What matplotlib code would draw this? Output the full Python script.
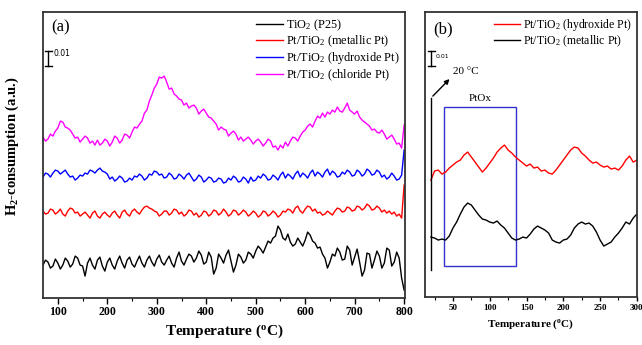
import numpy as np
import matplotlib
matplotlib.use('Agg')
import matplotlib.pyplot as plt
from matplotlib.ticker import MultipleLocator

#
# データ (縦軸は任意単位, 16 = 0.01)
#
temp_a = list(range(70, 801, 5))

tio2_p25 = [33, 38, 36, 30, 32, 39, 35, 29, 33, 40, 37, 31, 34, 42, 40, 33, 32, 22, 35, 40,
            33, 29, 38, 41, 32, 27, 36, 40, 33, 29, 37, 42, 35, 30, 38, 41, 34, 31, 37, 42,
            35, 31, 38, 42, 36, 32, 39, 43, 36, 33, 38, 42, 35, 31, 40, 46, 37, 33, 39, 44,
            42, 36, 40, 47, 43, 34, 36, 46, 41, 24, 30, 44, 40, 35, 43, 48, 37, 26, 33, 44,
            41, 35, 38, 46, 44, 40, 47, 52, 49, 45, 51, 57, 55, 60, 62, 72, 68, 60, 58, 64,
            56, 52, 54, 60, 56, 52, 58, 66, 63, 57, 55, 50, 51, 44, 40, 30, 36, 44, 42, 50,
            46, 38, 39, 52, 48, 33, 41, 49, 36, 22, 28, 45, 44, 30, 38, 47, 42, 30, 35, 50,
            48, 32, 36, 46, 40, 20, 8]
metallic_pt = [87, 84, 85, 89, 88, 84, 86, 89, 84, 82, 87, 90, 89, 85, 86, 82, 84, 86, 83, 80,
               85, 87, 82, 80, 84, 86, 83, 81, 85, 87, 83, 80, 86, 88, 84, 82, 87, 89, 86, 84,
               88, 91, 92, 90, 89, 87, 86, 82, 84, 87, 87, 83, 85, 89, 88, 84, 86, 82, 84, 88,
               87, 83, 85, 81, 83, 87, 86, 82, 84, 88, 87, 83, 85, 89, 86, 82, 84, 88, 87, 83,
               85, 88, 86, 82, 84, 87, 85, 81, 83, 87, 86, 82, 84, 87, 85, 81, 83, 87, 86, 89,
               88, 85, 90, 92, 87, 85, 89, 92, 91, 87, 89, 85, 86, 83, 84, 87, 85, 83, 87, 90,
               89, 86, 87, 91, 90, 87, 88, 92, 91, 88, 90, 94, 92, 88, 89, 92, 90, 86, 88, 85,
               87, 84, 86, 82, 84, 80, 113]
hydroxide_pt = [121, 125, 124, 121, 125, 128, 127, 124, 126, 128, 124, 121, 122, 118, 120, 123,
                122, 125, 124, 128, 127, 125, 128, 130, 127, 126, 124, 119, 121, 117, 119, 122,
                120, 116, 117, 120, 118, 122, 121, 124, 122, 118, 120, 124, 123, 127, 126, 123,
                124, 120, 121, 125, 123, 119, 120, 124, 122, 119, 123, 125, 121, 117, 119, 123,
                121, 116, 118, 121, 120, 116, 117, 120, 119, 115, 116, 120, 118, 122, 120, 116,
                117, 121, 119, 115, 121, 117, 118, 122, 120, 124, 122, 118, 119, 123, 121, 118,
                123, 126, 120, 124, 122, 119, 124, 127, 121, 125, 123, 120, 125, 128, 122, 126,
                124, 121, 126, 129, 123, 127, 125, 121, 122, 126, 124, 128, 126, 122, 123, 128,
                126, 122, 124, 129, 127, 123, 124, 128, 126, 121, 123, 119, 121, 125, 122, 118,
                119, 123, 148]
chloride_pt = [161, 157, 159, 164, 162, 167, 170, 177, 176, 171, 170, 168, 164, 160, 161, 156,
               159, 162, 160, 155, 157, 153, 158, 153, 155, 159, 157, 152, 156, 162, 160, 155,
               158, 164, 163, 160, 166, 171, 170, 174, 177, 185, 188, 197, 203, 210, 214, 221,
               220, 222, 216, 209, 210, 204, 202, 199, 198, 193, 195, 190, 192, 193, 190, 184,
               187, 189, 185, 181, 180, 177, 174, 168, 171, 169, 168, 162, 165, 167, 164, 158,
               161, 157, 159, 161, 158, 154, 157, 159, 156, 152, 155, 159, 157, 151, 152, 148,
               153, 150, 156, 152, 157, 161, 160, 157, 162, 166, 168, 172, 174, 171, 177, 182,
               180, 185, 181, 186, 184, 188, 186, 191, 187, 186, 190, 195, 188, 186, 184, 187,
               181, 178, 176, 174, 172, 168, 169, 166, 165, 168, 164, 159, 161, 163, 159, 154,
               155, 150, 173]

temp_b = list(range(20, 301, 5))
hydroxide_pt_b = [117, 126, 127, 123, 125, 129, 132, 135, 137, 142, 145, 140, 135, 130, 125, 129,
                  134, 139, 145, 149, 152, 147, 144, 140, 137, 134, 131, 133, 129, 130, 126, 127,
                  124, 123, 127, 132, 137, 142, 147, 150, 149, 144, 141, 137, 134, 135, 132, 130,
                  131, 128, 129, 127, 131, 137, 141, 135, 137]
metallic_pt_b = [60, 59, 57, 58, 57, 61, 69, 75, 83, 90, 94, 92, 87, 82, 78, 77,
                 75, 74, 76, 72, 69, 64, 59, 57, 58, 60, 59, 63, 68, 71, 69, 67,
                 64, 57, 55, 54, 57, 58, 62, 69, 73, 75, 73, 74, 71, 65, 57, 51,
                 53, 55, 60, 64, 69, 75, 73, 79, 83]
# 20 ℃ での立ち上がり
jump_t = [20, 20]
jump_h = [199, 27]

#
# 描画設定
#
plt.rcParams['font.family'] = ['Liberation Serif', 'DejaVu Serif']
plt.rcParams['mathtext.fontset'] = 'custom'
plt.rcParams['mathtext.rm'] = 'Liberation Serif'
plt.rcParams['mathtext.default'] = 'regular'
plt.rcParams['axes.linewidth'] = 1.3
plt.rcParams['axes.edgecolor'] = '#333333'

fig = plt.figure(figsize=(6.42, 3.45), dpi=100)
ax1 = fig.add_axes([0.067, 0.136, 0.564, 0.829])
ax2 = fig.add_axes([0.662, 0.139, 0.330, 0.826])

# (a)
ax1.plot(temp_a, tio2_p25, color='black', lw=1.0, label='TiO$_2$ (P25)')
ax1.plot(temp_a, metallic_pt, color='red', lw=1.0, label='Pt/TiO$_2$ (metallic Pt)')
ax1.plot(temp_a, hydroxide_pt, color='blue', lw=1.0, label='Pt/TiO$_2$ (hydroxide Pt)')
ax1.plot(temp_a, chloride_pt, color='magenta', lw=1.0, label='Pt/TiO$_2$ (chloride Pt)')
ax1.set_xlim(70, 802)
ax1.set_ylim(0, 286)
ax1.set_yticks([])
ax1.xaxis.set_major_locator(MultipleLocator(100))
ax1.xaxis.set_minor_locator(MultipleLocator(50))
ax1.tick_params(axis='x', which='major', direction='out', length=4, width=1, labelsize=8.5, pad=2)
ax1.tick_params(axis='x', which='minor', direction='out', length=2, width=0.8)
for t in ax1.get_xticklabels():
    t.set_fontweight('bold')
ax1.set_xlabel('Temperature ($^o$C)', fontsize=11, fontweight='bold', labelpad=3)
ax1.set_ylabel('H$_2$-consumption (a.u.)', fontsize=10.5, fontweight='bold')
ax1.yaxis.set_label_coords(-0.06, 0.53)
ax1.legend(loc='upper right', frameon=False, fontsize=8.8, handlelength=2.2,
           labelspacing=0.08, borderaxespad=0.05, handletextpad=0.25)
ax1.text(0.022, 0.945, '(a)', transform=ax1.transAxes, fontsize=12, va='center')
# スケールバー
ax1.plot([0.015, 0.015], [0.81, 0.865], transform=ax1.transAxes, color='black', lw=1)
ax1.plot([0.006, 0.024], [0.81, 0.81], transform=ax1.transAxes, color='black', lw=1)
ax1.plot([0.006, 0.024], [0.865, 0.865], transform=ax1.transAxes, color='black', lw=1)
ax1.text(0.028, 0.855, '0.01', transform=ax1.transAxes, fontsize=5.5, family='DejaVu Sans', va='center')

# (b)
ax2.plot(temp_b, hydroxide_pt_b, color='red', lw=1.0, label='Pt/TiO$_2$ (hydroxide Pt)')
ax2.plot(temp_b, metallic_pt_b, color='black', lw=1.0, label='Pt/TiO$_2$ (metallic Pt)')
ax2.plot(jump_t, jump_h, color='black', lw=1.0)
ax2.set_xlim(12, 300)
ax2.set_ylim(0, 285)
ax2.set_yticks([])
ax2.xaxis.set_major_locator(MultipleLocator(50))
ax2.xaxis.set_minor_locator(MultipleLocator(25))
ax2.tick_params(axis='x', which='major', direction='out', length=3, width=1, labelsize=6.5, pad=2)
ax2.tick_params(axis='x', which='minor', direction='out', length=2, width=0.8)
for t in ax2.get_xticklabels():
    t.set_fontweight('bold')
ax2.set_xlabel('Temperature ($^o$C)', fontsize=8, fontweight='bold', labelpad=4)
ax2.legend(loc='upper right', frameon=False, fontsize=8.5, handlelength=2.2,
           labelspacing=0.08, borderaxespad=0.0, handletextpad=0.25)
ax2.text(0.04, 0.94, '(b)', transform=ax2.transAxes, fontsize=12, va='center')
ax2.plot([0.03, 0.03], [0.81, 0.865], transform=ax2.transAxes, color='black', lw=1)
ax2.plot([0.015, 0.045], [0.81, 0.81], transform=ax2.transAxes, color='black', lw=1)
ax2.plot([0.015, 0.045], [0.865, 0.865], transform=ax2.transAxes, color='black', lw=1)
ax2.text(0.05, 0.845, '0.01', transform=ax2.transAxes, fontsize=4.5, family='DejaVu Sans', va='center')

# 20 ℃ 矢印
ax2.annotate('', xy=(48, 220), xytext=(20, 199),
             arrowprops=dict(arrowstyle='-|>', color='black', lw=1, mutation_scale=7))
ax2.text(50, 226, '20 \u00b0C', fontsize=8, va='center')

# PtOx 枠
ax2.add_patch(plt.Rectangle((38, 31), 98, 159, fill=False, edgecolor='#3333cc', lw=1))
ax2.text(87, 194, 'PtOx', fontsize=8, ha='center', va='bottom')

plt.savefig('out.png', dpi=100)
